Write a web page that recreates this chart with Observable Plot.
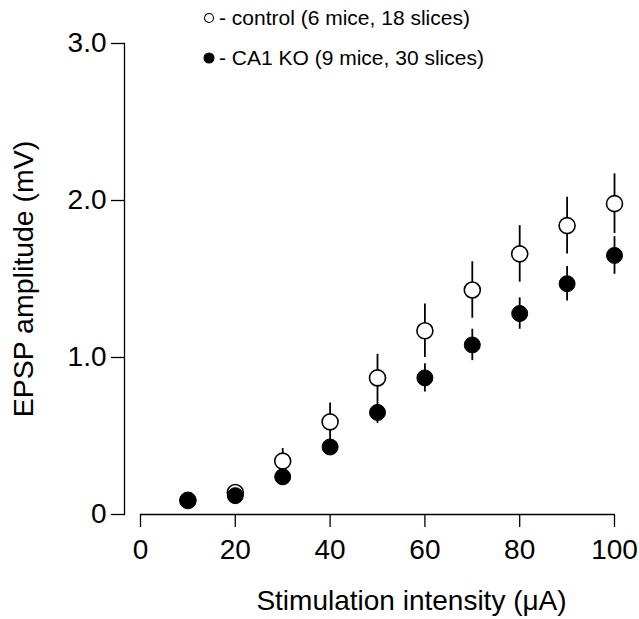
<!DOCTYPE html>
<html>
<head>
<meta charset="utf-8">
<script src="https://cdn.jsdelivr.net/npm/d3@7"></script>
<script src="https://cdn.jsdelivr.net/npm/@observablehq/plot@0.6"></script>
<style>
  html, body { margin: 0; padding: 0; background: #fff; }
  #wrap { position: relative; width: 639px; height: 619px; font-family: "Liberation Sans", Arial, Helvetica, sans-serif; }
  #legend { position: absolute; left: 202px; top: 0; font-size: 21px; color: #000; }
  .row { position: absolute; white-space: nowrap; display: flex; align-items: center; }
  .row svg { margin-right: 3px; }
</style>
</head>
<body>
<div id="wrap">
  <div id="chart"></div>
  <div id="legend"></div>
</div>
<script>
// ---- data ----
const intensity = [10, 20, 30, 40, 50, 60, 70, 80, 90, 100];          // µA
const controlMean = [0.09, 0.14, 0.34, 0.59, 0.87, 1.17, 1.43, 1.66, 1.84, 1.98];
const controlErr  = [0.02, 0.03, 0.08, 0.12, 0.15, 0.17, 0.18, 0.18, 0.18, 0.19];
const koMean = [0.09, 0.12, 0.24, 0.43, 0.65, 0.87, 1.08, 1.28, 1.47, 1.65];
const koErr  = [0.02, 0.03, 0.04, 0.05, 0.07, 0.09, 0.10, 0.10, 0.11, 0.12];
const xTicks = [0, 20, 40, 60, 80, 100];
const yTicks = [0, 1, 2, 3];
const xDomain = [0, 100];
const yDomain = [0, 3];
const xLabel = "Stimulation intensity (\u03BCA)";
const yLabel = "EPSP amplitude (mV)";
const legendItems = [
  {label: "- control (6 mice, 18 slices)", filled: false},
  {label: "- CA1 KO (9 mice, 30 slices)", filled: true}
];

const control = intensity.map((x, i) => ({x, y: controlMean[i], e: controlErr[i]}));
const ko = intensity.map((x, i) => ({x, y: koMean[i], e: koErr[i]}));

const chart = Plot.plot({
  width: 639,
  height: 619,
  marginLeft: 124,
  marginRight: 25,
  marginTop: 43,
  marginBottom: 105,
  style: {fontFamily: "'Liberation Sans', Arial, Helvetica, sans-serif", fontSize: "28px", color: "#000", background: "#fff", overflow: "visible"},
  x: {domain: xDomain, insetLeft: 16},
  y: {domain: yDomain},
  marks: [
    Plot.axisX({ticks: xTicks, tickSize: 13, tickPadding: 12, label: null, strokeWidth: 1.3}),
    Plot.axisY({ticks: yTicks, tickSize: 13, tickPadding: 5, label: null, strokeWidth: 1.3,
      tickFormat: d => d === 0 ? "0" : d3.format(".1f")(d)}),
    Plot.frame({anchor: "left", strokeWidth: 1.3}),
    Plot.ruleY([yDomain[0]], {x1: xDomain[0], x2: xDomain[1], strokeWidth: 1.3}),
    Plot.text([xLabel], {frameAnchor: "bottom", text: d => d, lineAnchor: "top", dy: 76, dx: 42, fontSize: 28}),
    Plot.text([yLabel], {frameAnchor: "left", text: d => d, textAnchor: "middle", rotate: -90, lineAnchor: "bottom", dx: -92, fontSize: 28.5}),
    // control (open circles) drawn first
    Plot.ruleX(control, {x: "x", y1: d => d.y - d.e, y2: d => d.y + d.e, stroke: "#000", strokeWidth: 1.8}),
    Plot.dot(control, {x: "x", y: "y", r: 8, fill: "#fff", stroke: "#000", strokeWidth: 1.6}),
    // CA1 KO (filled circles) on top
    Plot.ruleX(ko, {x: "x", y1: d => d.y - d.e, y2: d => d.y + d.e, stroke: "#000", strokeWidth: 1.8}),
    Plot.dot(ko, {x: "x", y: "y", r: 8, fill: "#000", stroke: "#000", strokeWidth: 1})
  ]
});
document.getElementById("chart").appendChild(chart);

// legend
const legend = document.getElementById("legend");
const rowTops = [6, 46];
legendItems.forEach((it, i) => {
  const row = document.createElement("div");
  row.className = "row";
  row.style.top = rowTops[i] + "px";
  row.innerHTML = `<svg width="14" height="14"><circle cx="7" cy="7" r="${it.filled ? 5 : 4.5}" fill="${it.filled ? "#000" : "#fff"}" stroke="#000" stroke-width="1.1"/></svg><span>${it.label}</span>`;
  legend.appendChild(row);
});
</script>
</body>
</html>
